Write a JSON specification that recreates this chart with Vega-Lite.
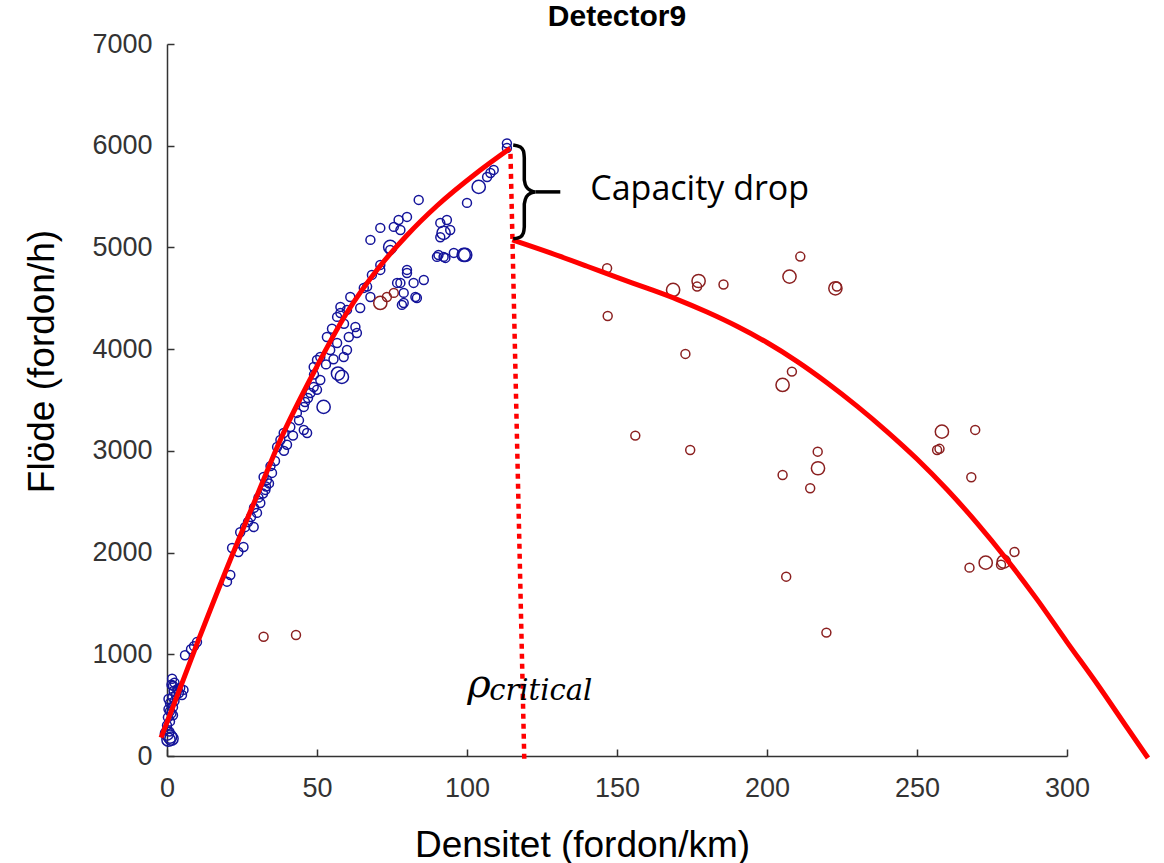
{
  "$schema": "https://vega.github.io/schema/vega-lite/v6.json",
  "width": 900,
  "height": 712,
  "autosize": {"type": "none"},
  "padding": {"left": 167, "top": 44, "right": 97, "bottom": 107},
  "background": "white",
  "config": {"view": {"stroke": null}},
  "title": {"text": "Detector9", "font": "Liberation Sans", "fontSize": 30, "fontWeight": "bold", "color": "#000000", "anchor": "middle", "baseline": "alphabetic", "offset": 2, "dy": 28},
  "datasets": {
    "obs": [
      {"d":0.5,"q":160,"n":2,"typ":"fri"},{"d":1,"q":190,"n":2,"typ":"fri"},{"d":0,"q":220,"n":2,"typ":"fri"},{"d":1.5,"q":170,"n":2,"typ":"fri"},{"d":0.8,"q":240,"n":1,"typ":"fri"},
      {"d":0,"q":300,"n":1,"typ":"fri"},{"d":1,"q":340,"n":1,"typ":"fri"},{"d":0.3,"q":380,"n":1,"typ":"fri"},{"d":1.5,"q":420,"n":1,"typ":"fri"},{"d":0.5,"q":460,"n":1,"typ":"fri"},
      {"d":2,"q":480,"n":1,"typ":"fri"},{"d":1,"q":520,"n":1,"typ":"fri"},{"d":2.5,"q":540,"n":1,"typ":"fri"},{"d":1.8,"q":580,"n":1,"typ":"fri"},{"d":3,"q":600,"n":1,"typ":"fri"},
      {"d":2.2,"q":640,"n":1,"typ":"fri"},{"d":4,"q":620,"n":1,"typ":"fri"},{"d":3.5,"q":660,"n":1,"typ":"fri"},{"d":1.5,"q":700,"n":1,"typ":"fri"},{"d":2.5,"q":720,"n":1,"typ":"fri"},
      {"d":5,"q":600,"n":1,"typ":"fri"},{"d":0.5,"q":560,"n":1,"typ":"fri"},{"d":1,"q":440,"n":1,"typ":"fri"},{"d":2,"q":400,"n":1,"typ":"fri"},{"d":5.5,"q":650,"n":1,"typ":"fri"},
      {"d":4.4,"q":670,"n":1,"typ":"fri"},{"d":2,"q":690,"n":1,"typ":"fri"},{"d":1.7,"q":760,"n":1,"typ":"fri"},
      {"d":6,"q":990,"n":1,"typ":"fri"},{"d":8,"q":1050,"n":1,"typ":"fri"},{"d":10,"q":1120,"n":1,"typ":"fri"},{"d":9,"q":1080,"n":1,"typ":"fri"},
      {"d":20,"q":1714,"n":1,"typ":"fri"},{"d":21.1,"q":1780,"n":1,"typ":"fri"},
      {"d":21.7,"q":2045,"n":1,"typ":"fri"},{"d":23.8,"q":2006,"n":1,"typ":"fri"},{"d":25.5,"q":2055,"n":1,"typ":"fri"},
      {"d":24.4,"q":2200,"n":1,"typ":"fri"},{"d":26,"q":2250,"n":1,"typ":"fri"},{"d":27,"q":2300,"n":1,"typ":"fri"},{"d":28.9,"q":2252,"n":1,"typ":"fri"},{"d":28,"q":2350,"n":1,"typ":"fri"},
      {"d":30,"q":2390,"n":1,"typ":"fri"},{"d":29,"q":2440,"n":1,"typ":"fri"},{"d":31.1,"q":2488,"n":1,"typ":"fri"},{"d":30.5,"q":2540,"n":1,"typ":"fri"},{"d":32,"q":2580,"n":1,"typ":"fri"},
      {"d":32.8,"q":2616,"n":1,"typ":"fri"},{"d":33.3,"q":2714,"n":1,"typ":"fri"},{"d":32.2,"q":2743,"n":1,"typ":"fri"},{"d":35,"q":2783,"n":1,"typ":"fri"},{"d":34,"q":2680,"n":1,"typ":"fri"},
      {"d":33,"q":2650,"n":1,"typ":"fri"},{"d":34.5,"q":2850,"n":1,"typ":"fri"},{"d":36,"q":2900,"n":1,"typ":"fri"},
      {"d":36.7,"q":3038,"n":1,"typ":"fri"},{"d":37.8,"q":3107,"n":1,"typ":"fri"},{"d":38.9,"q":3176,"n":1,"typ":"fri"},{"d":41.1,"q":3235,"n":1,"typ":"fri"},{"d":45.6,"q":3205,"n":1,"typ":"fri"},
      {"d":46.7,"q":3176,"n":1,"typ":"fri"},{"d":40,"q":3060,"n":1,"typ":"fri"},{"d":39,"q":3000,"n":1,"typ":"fri"},{"d":42,"q":3150,"n":1,"typ":"fri"},{"d":43.3,"q":3373,"n":1,"typ":"fri"},
      {"d":45.6,"q":3432,"n":1,"typ":"fri"},{"d":44,"q":3300,"n":1,"typ":"fri"},{"d":46,"q":3480,"n":1,"typ":"fri"},{"d":47.8,"q":3569,"n":1,"typ":"fri"},{"d":52.2,"q":3432,"n":2,"typ":"fri"},
      {"d":48.9,"q":3628,"n":1,"typ":"fri"},{"d":51.1,"q":3697,"n":1,"typ":"fri"},{"d":47,"q":3520,"n":1,"typ":"fri"},{"d":50,"q":3600,"n":1,"typ":"fri"},{"d":49,"q":3750,"n":1,"typ":"fri"},
      {"d":48.9,"q":3825,"n":1,"typ":"fri"},{"d":51.1,"q":3923,"n":1,"typ":"fri"},{"d":54.4,"q":3992,"n":1,"typ":"fri"},{"d":56.7,"q":4061,"n":1,"typ":"fri"},{"d":60,"q":3992,"n":1,"typ":"fri"},
      {"d":58.3,"q":3727,"n":2,"typ":"fri"},{"d":57,"q":3760,"n":2,"typ":"fri"},{"d":58.9,"q":3923,"n":1,"typ":"fri"},{"d":60.6,"q":4120,"n":1,"typ":"fri"},{"d":56.7,"q":4317,"n":1,"typ":"fri"},
      {"d":57.8,"q":4356,"n":1,"typ":"fri"},{"d":60,"q":4386,"n":1,"typ":"fri"},{"d":61.1,"q":4513,"n":1,"typ":"fri"},{"d":57.8,"q":4415,"n":1,"typ":"fri"},{"d":62.8,"q":4218,"n":1,"typ":"fri"},
      {"d":63.3,"q":4159,"n":1,"typ":"fri"},{"d":53.3,"q":4120,"n":1,"typ":"fri"},{"d":50,"q":3894,"n":1,"typ":"fri"},{"d":55,"q":4200,"n":1,"typ":"fri"},{"d":59,"q":4250,"n":1,"typ":"fri"},
      {"d":53,"q":3850,"n":1,"typ":"fri"},{"d":55.5,"q":3900,"n":1,"typ":"fri"},{"d":64.4,"q":4405,"n":1,"typ":"fri"},{"d":65.6,"q":4602,"n":1,"typ":"fri"},{"d":66.7,"q":4615,"n":1,"typ":"fri"},
      {"d":68.3,"q":4730,"n":1,"typ":"fri"},{"d":71.1,"q":4828,"n":1,"typ":"fri"},{"d":74.4,"q":4975,"n":1,"typ":"fri"},{"d":80,"q":4779,"n":1,"typ":"fri"},{"d":82.2,"q":4651,"n":1,"typ":"fri"},
      {"d":85.6,"q":4680,"n":1,"typ":"fri"},{"d":82.8,"q":4513,"n":1,"typ":"fri"},{"d":78.9,"q":4454,"n":1,"typ":"fri"},{"d":77.8,"q":4651,"n":1,"typ":"fri"},{"d":67.8,"q":4513,"n":1,"typ":"fri"},
      {"d":90,"q":4907,"n":1,"typ":"fri"},{"d":92.2,"q":4907,"n":1,"typ":"fri"},{"d":98.9,"q":4926,"n":2,"typ":"fri"},
      {"d":113.3,"q":6023,"n":1,"typ":"fri"},{"d":113.3,"q":5977,"n":1,"typ":"fri"},{"d":108.9,"q":5762,"n":1,"typ":"fri"},{"d":107.8,"q":5732,"n":1,"typ":"fri"},{"d":106.7,"q":5693,"n":1,"typ":"fri"},
      {"d":103.9,"q":5595,"n":2,"typ":"fri"},{"d":100,"q":5438,"n":1,"typ":"fri"},{"d":83.9,"q":5467,"n":1,"typ":"fri"},{"d":80,"q":5300,"n":1,"typ":"fri"},{"d":77.2,"q":5270,"n":1,"typ":"fri"},
      {"d":75.6,"q":5202,"n":1,"typ":"fri"},{"d":77.8,"q":5172,"n":1,"typ":"fri"},{"d":71.1,"q":5192,"n":1,"typ":"fri"},{"d":67.8,"q":5074,"n":1,"typ":"fri"},{"d":74.4,"q":5005,"n":2,"typ":"fri"},
      {"d":91.1,"q":5241,"n":1,"typ":"fri"},{"d":93.3,"q":5270,"n":1,"typ":"fri"},{"d":94.4,"q":5172,"n":1,"typ":"fri"},{"d":92.2,"q":5143,"n":2,"typ":"fri"},{"d":91.1,"q":5100,"n":1,"typ":"fri"},
      {"d":90.5,"q":4926,"n":1,"typ":"fri"},{"d":95.6,"q":4946,"n":1,"typ":"fri"},{"d":99.4,"q":4926,"n":2,"typ":"fri"},{"d":92.8,"q":4897,"n":1,"typ":"fri"},{"d":80,"q":4749,"n":1,"typ":"fri"},
      {"d":76.7,"q":4651,"n":1,"typ":"fri"},{"d":78.9,"q":4553,"n":1,"typ":"fri"},{"d":83.3,"q":4503,"n":1,"typ":"fri"},{"d":78.3,"q":4435,"n":1,"typ":"fri"},{"d":71.1,"q":4779,"n":1,"typ":"fri"},
      {"d":32.2,"q":1173,"n":1,"typ":"kö"},{"d":43,"q":1190,"n":1,"typ":"kö"},{"d":71.1,"q":4454,"n":2,"typ":"kö"},{"d":75.6,"q":4553,"n":1,"typ":"kö"},{"d":73.3,"q":4513,"n":1,"typ":"kö"},
      {"d":146.7,"q":4795,"n":1,"typ":"kö"},{"d":146.9,"q":4326,"n":1,"typ":"kö"},{"d":168.7,"q":4582,"n":2,"typ":"kö"},{"d":177.2,"q":4670,"n":2,"typ":"kö"},{"d":176.7,"q":4615,"n":1,"typ":"kö"},
      {"d":185.5,"q":4636,"n":1,"typ":"kö"},{"d":172.8,"q":3953,"n":1,"typ":"kö"},{"d":156.1,"q":3150,"n":1,"typ":"kö"},{"d":174.4,"q":3009,"n":1,"typ":"kö"},{"d":207.5,"q":4713,"n":2,"typ":"kö"},
      {"d":211.1,"q":4910,"n":1,"typ":"kö"},{"d":222.8,"q":4598,"n":2,"typ":"kö"},{"d":223.3,"q":4615,"n":1,"typ":"kö"},{"d":208.3,"q":3779,"n":1,"typ":"kö"},{"d":205.2,"q":3648,"n":2,"typ":"kö"},
      {"d":216.9,"q":2992,"n":1,"typ":"kö"},{"d":217,"q":2829,"n":2,"typ":"kö"},{"d":205.2,"q":2763,"n":1,"typ":"kö"},{"d":214.4,"q":2632,"n":1,"typ":"kö"},{"d":258.3,"q":3189,"n":2,"typ":"kö"},
      {"d":256.7,"q":3009,"n":1,"typ":"kö"},{"d":257.5,"q":3020,"n":1,"typ":"kö"},{"d":269.4,"q":3206,"n":1,"typ":"kö"},{"d":268.1,"q":2740,"n":1,"typ":"kö"},{"d":206.4,"q":1763,"n":1,"typ":"kö"},
      {"d":219.8,"q":1213,"n":1,"typ":"kö"},{"d":267.5,"q":1852,"n":1,"typ":"kö"},{"d":272.9,"q":1901,"n":2,"typ":"kö"},{"d":278.9,"q":1911,"n":2,"typ":"kö"},{"d":278,"q":1880,"n":1,"typ":"kö"},
      {"d":282.5,"q":2006,"n":1,"typ":"kö"}
    ],
    "curve": [
      {"seg":"fri","i":0,"d":-2,"q":180},{"seg":"fri","i":1,"d":0,"q":330},{"seg":"fri","i":2,"d":10.5,"q":1141},{"seg":"fri","i":3,"d":21.1,"q":1930},
      {"seg":"fri","i":4,"d":30,"q":2560},{"seg":"fri","i":5,"d":37.8,"q":3110},{"seg":"fri","i":6,"d":48.9,"q":3770},{"seg":"fri","i":7,"d":60,"q":4360},
      {"seg":"fri","i":8,"d":71.1,"q":4820},{"seg":"fri","i":9,"d":80,"q":5120},{"seg":"fri","i":10,"d":90,"q":5410},{"seg":"fri","i":11,"d":103.3,"q":5735},
      {"seg":"fri","i":12,"d":114.4,"q":5975},
      {"seg":"kö","i":0,"d":115.1,"q":5074},{"seg":"kö","i":1,"d":127.8,"q":4946},{"seg":"kö","i":2,"d":140,"q":4815},{"seg":"kö","i":3,"d":150,"q":4705},
      {"seg":"kö","i":4,"d":160,"q":4600},{"seg":"kö","i":5,"d":170,"q":4490},{"seg":"kö","i":6,"d":180,"q":4365},{"seg":"kö","i":7,"d":190,"q":4225},
      {"seg":"kö","i":8,"d":200,"q":4065},{"seg":"kö","i":9,"d":210,"q":3880},{"seg":"kö","i":10,"d":220,"q":3670},{"seg":"kö","i":11,"d":230,"q":3440},
      {"seg":"kö","i":12,"d":240,"q":3190},{"seg":"kö","i":13,"d":250,"q":2920},{"seg":"kö","i":14,"d":260,"q":2620},{"seg":"kö","i":15,"d":270,"q":2290},
      {"seg":"kö","i":16,"d":280,"q":1930},{"seg":"kö","i":17,"d":290,"q":1540},{"seg":"kö","i":18,"d":300,"q":1120},{"seg":"kö","i":19,"d":310,"q":710},
      {"seg":"kö","i":20,"d":320,"q":280},{"seg":"kö","i":21,"d":327,"q":-20}
    ],
    "crit": [
      {"i":0,"d":114.5,"q":5920},{"i":1,"d":119.1,"q":-40}
    ],
    "brace": [
      {"part":"b","i":0,"d":115.4,"q":6008},{"part":"b","i":1,"d":117.8,"q":5988},{"part":"b","i":2,"d":118.8,"q":5949},{"part":"b","i":3,"d":119.1,"q":5880},
      {"part":"b","i":4,"d":119.1,"q":5664},{"part":"b","i":5,"d":119.8,"q":5595},{"part":"b","i":6,"d":121.4,"q":5556},{"part":"b","i":7,"d":122.8,"q":5546},
      {"part":"b","i":8,"d":121.4,"q":5536},{"part":"b","i":9,"d":119.8,"q":5497},{"part":"b","i":10,"d":119.1,"q":5428},{"part":"b","i":11,"d":119.1,"q":5202},
      {"part":"b","i":12,"d":118.8,"q":5143},{"part":"b","i":13,"d":117.8,"q":5103},{"part":"b","i":14,"d":115.4,"q":5084},
      {"part":"t","i":0,"d":122.8,"q":5546},{"part":"t","i":1,"d":131.1,"q":5546}
    ]
  },
  "encoding": {
    "x": {"field": "d", "type": "quantitative",
      "scale": {"domain": [0, 300], "nice": false, "zero": false},
      "axis": {"values": [0, 50, 100, 150, 200, 250, 300], "format": "d", "grid": false, "title": "Densitet (fordon/km)", "labelFlush": false,
        "labelFont": "Liberation Sans", "labelFontSize": 27, "labelColor": "#333333", "labelPadding": 26,
        "tickSize": -7, "tickColor": "#333333", "tickWidth": 1.5, "domainColor": "#333333", "domainWidth": 1.5,
        "titleFont": "Liberation Sans", "titleFontSize": 37, "titleFontWeight": "normal", "titleColor": "#000000",
        "titleX": 415, "titleY": 100, "titleBaseline": "alphabetic", "titleAlign": "center"}},
    "y": {"field": "q", "type": "quantitative",
      "scale": {"domain": [0, 7000], "nice": false, "zero": false},
      "axis": {"values": [0, 1000, 2000, 3000, 4000, 5000, 6000, 7000], "format": "d", "grid": false, "title": "Flöde (fordon/h)", "labelFlush": false,
        "labelFont": "Liberation Sans", "labelFontSize": 27, "labelColor": "#333333", "labelPadding": 22,
        "tickSize": -7, "tickColor": "#333333", "tickWidth": 1.5, "domainColor": "#333333", "domainWidth": 1.5,
        "titleFont": "Liberation Sans", "titleFontSize": 37, "titleFontWeight": "normal", "titleColor": "#000000",
        "titleX": -125, "titleY": 317, "titleAngle": -90, "titleBaseline": "middle", "titleAlign": "center"}}
  },
  "layer": [
    {
      "data": {"name": "obs"},
      "mark": {"type": "point", "filled": false, "strokeWidth": 1.5, "opacity": 1, "clip": false},
      "encoding": {
        "color": {"field": "typ", "type": "nominal", "scale": {"domain": ["fri", "kö"], "range": ["#14149a", "#8b2020"]}, "legend": null},
        "size": {"field": "n", "type": "quantitative", "scale": {"domain": [1, 2], "range": [80, 175]}, "legend": null}
      }
    },
    {
      "data": {"name": "curve"},
      "mark": {"type": "line", "color": "#ff0000", "strokeWidth": 5, "interpolate": "monotone", "clip": false},
      "encoding": {"detail": {"field": "seg"}, "order": {"field": "i", "type": "quantitative"}}
    },
    {
      "data": {"name": "crit"},
      "mark": {"type": "line", "color": "#ff0000", "strokeWidth": 4.5, "strokeDash": [5, 5], "clip": false},
      "encoding": {"order": {"field": "i", "type": "quantitative"}}
    },
    {
      "data": {"name": "brace"},
      "mark": {"type": "line", "color": "#000000", "strokeWidth": 3.5, "interpolate": "monotone", "clip": false},
      "encoding": {"detail": {"field": "part"}, "order": {"field": "i", "type": "quantitative"}}
    },
    {
      "data": {"values": [{"d": 141.1, "q": 5467, "label": "Capacity drop"}]},
      "mark": {"type": "text", "align": "left", "baseline": "alphabetic", "font": "Open Sans", "fontSize": 34, "color": "#000000"},
      "encoding": {"text": {"field": "label"}}
    },
    {
      "data": {"values": [{"d": 100.1, "q": 580, "label": "ρ"}]},
      "mark": {"type": "text", "align": "left", "baseline": "alphabetic", "font": "DejaVu Serif", "fontStyle": "italic", "fontSize": 40, "color": "#000000"},
      "encoding": {"text": {"field": "label"}}
    },
    {
      "data": {"values": [{"d": 107.4, "q": 551, "label": "critical"}]},
      "mark": {"type": "text", "align": "left", "baseline": "alphabetic", "font": "DejaVu Serif", "fontStyle": "italic", "fontSize": 29, "color": "#000000"},
      "encoding": {"text": {"field": "label"}}
    }
  ]
}
